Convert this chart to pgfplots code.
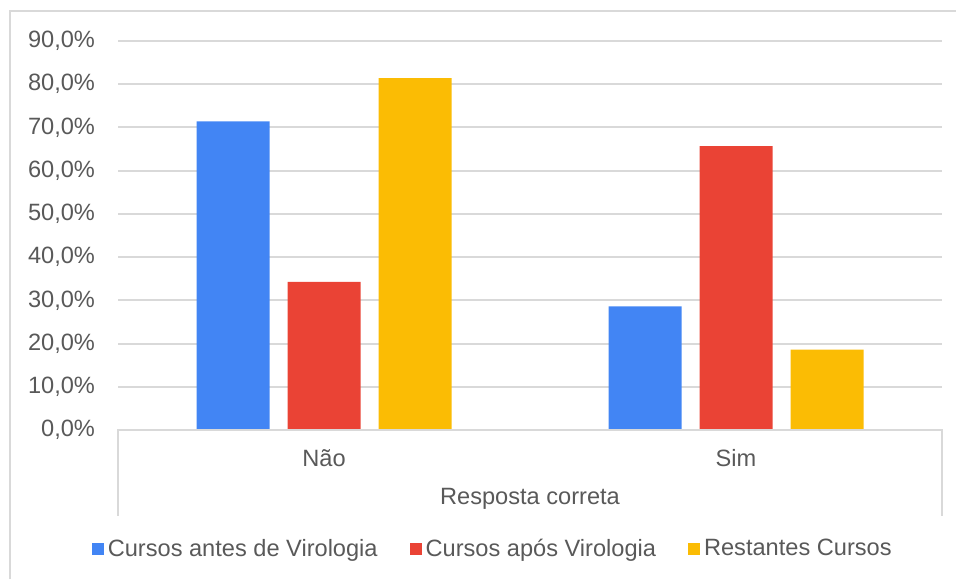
\documentclass[border=0pt]{standalone}
\usepackage{fontspec}
\setmainfont{Liberation Sans}
\usepackage{pgfplots}
\pgfplotsset{compat=1.18}
\definecolor{cblue}{HTML}{4285F4}
\definecolor{cred}{HTML}{EA4335}
\definecolor{cyellow}{HTML}{FBBC04}
\definecolor{gridgray}{HTML}{D9D9D9}
\definecolor{txtgray}{HTML}{595959}

\begin{document}
\begin{tikzpicture}[font=\fontsize{11.8}{14}\selectfont]
\useasboundingbox (0pt,0pt) rectangle (478pt,289.5pt);
\draw[gridgray, line width=1pt] (5pt,0pt) -- (5pt,284pt) -- (478pt,284pt);
\begin{axis}[
  at={(59pt,74.5pt)}, anchor=south west,
  width=412pt, height=194.5pt, scale only axis,
  ybar=9pt, bar width=36.5pt,
  xmin=-0.5, xmax=1.5, ymin=0, ymax=90,
  xtick=data, xticklabels={Não,Sim},
  ytick={0,10,...,90},
  /pgf/number format/assume math mode=true,
  yticklabel={\pgfmathprintnumber[fixed,fixed zerofill,precision=1,use comma]{\tick}\%},
  axis line style={draw=none},
  major tick length=0pt,
  ymajorgrids, grid style={gridgray, line width=1pt},
  tick label style={text=txtgray},
  yticklabel style={anchor=east, xshift=-8pt},
  xticklabel style={anchor=center, yshift=-14pt},
  xlabel={Resposta correta},
  xlabel style={at={(axis description cs:0.5,-0.177)}, anchor=center, text=txtgray},
  clip=false,
  legend columns=3,
  legend cell align=left,
  legend style={at={(axis description cs:0.456,-0.306)}, anchor=center,
    draw=none, fill=none, text=txtgray,
    /tikz/every even column/.append style={column sep=14pt}},
]
\addplot[fill=cblue, draw=none,
  legend image code/.code={\fill[cblue] (0pt,-3pt) rectangle (6pt,3pt);}]
  coordinates {(0,71.4) (1,28.6)};
\addplot[fill=cred, draw=none,
  legend image code/.code={\fill[cred] (0pt,-3pt) rectangle (6pt,3pt);}]
  coordinates {(0,34.3) (1,65.7)};
\addplot[fill=cyellow, draw=none,
  legend image code/.code={\fill[cyellow] (0pt,-3pt) rectangle (6pt,3pt);}]
  coordinates {(0,81.4) (1,18.6)};
\legend{Cursos antes de Virologia, Cursos após Virologia, Restantes Cursos}
\draw[gridgray, line width=1pt] (rel axis cs:0,-0.221) -- (rel axis cs:0,0)
  -- (rel axis cs:1,0) -- (rel axis cs:1,-0.221);
\end{axis}
\end{tikzpicture}
\end{document}
